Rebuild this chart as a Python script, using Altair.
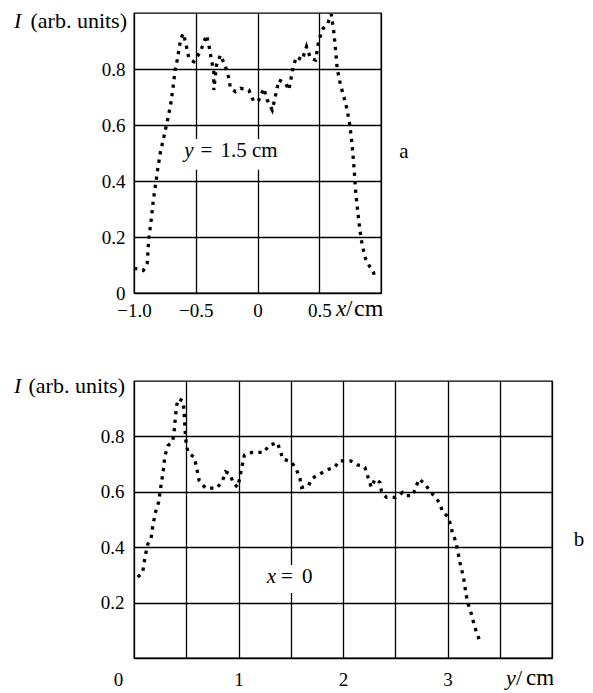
import altair as alt
import pandas as pd

FONT = "'Liberation Serif', 'Times New Roman', Times, serif"
TICK_FS = 19
NOTE_FS = 21

# ---- panel a: y = 1.5 cm, intensity vs x (cm) ----
a_x = [-1.0, -0.96, -0.925, -0.893, -0.88, -0.861, -0.845, -0.826, -0.807, -0.785,
       -0.758, -0.731, -0.704, -0.683, -0.667, -0.65, -0.623, -0.602, -0.583, -0.556,
       -0.516, -0.462, -0.413, -0.394, -0.375, -0.354, -0.354, -0.332, -0.30, -0.259,
       -0.232, -0.219, -0.178, -0.138, -0.07, -0.03, 0.01, 0.051, 0.079, 0.119,
       0.138, 0.173, 0.227, 0.254, 0.289, 0.316, 0.362, 0.397, 0.429, 0.47,
       0.497, 0.532, 0.569, 0.597, 0.618, 0.632, 0.645, 0.672, 0.699, 0.726,
       0.745, 0.759, 0.772, 0.785, 0.796, 0.812, 0.829, 0.848, 0.874, 0.909,
       0.937, 0.955]
a_I = [0.088, 0.085, 0.08, 0.106, 0.195, 0.26, 0.326, 0.386, 0.445, 0.505,
       0.558, 0.612, 0.671, 0.737, 0.796, 0.832, 0.904, 0.927, 0.897, 0.838,
       0.826, 0.862, 0.921, 0.886, 0.838, 0.79, 0.725, 0.814, 0.85, 0.808,
       0.767, 0.731, 0.719, 0.731, 0.725, 0.683, 0.689, 0.731, 0.689, 0.654,
       0.689, 0.761, 0.749, 0.725, 0.808, 0.844, 0.832, 0.88, 0.838, 0.832,
       0.904, 0.945, 0.963, 0.996, 0.933, 0.868, 0.802, 0.743, 0.701, 0.654,
       0.606, 0.558, 0.499, 0.427, 0.356, 0.29, 0.225, 0.171, 0.124, 0.094,
       0.076, 0.052]

# ---- panel b: x = 0, intensity vs y (cm) ----
b_y = [0.036, 0.083, 0.108, 0.133, 0.163, 0.18, 0.206, 0.235, 0.253, 0.278,
       0.296, 0.325, 0.371, 0.386, 0.396, 0.407, 0.426, 0.469, 0.479, 0.487,
       0.494, 0.516, 0.577, 0.602, 0.624, 0.685, 0.793, 0.847, 0.876, 0.919,
       0.948, 0.991, 1.01, 1.028, 1.057, 1.128, 1.244, 1.287, 1.369, 1.395,
       1.424, 1.503, 1.55, 1.586, 1.604, 1.669, 1.705, 1.777, 1.849, 1.921,
       1.965, 2.073, 2.138, 2.188, 2.21, 2.235, 2.271, 2.307, 2.354, 2.368,
       2.415, 2.505, 2.57, 2.607, 2.667, 2.696, 2.728, 2.786, 2.829, 2.883,
       2.92, 2.956, 3.01, 3.046, 3.081, 3.1, 3.125, 3.153, 3.172, 3.19,
       3.227, 3.256, 3.281, 3.306]
b_I = [0.292, 0.31, 0.37, 0.412, 0.43, 0.478, 0.526, 0.562, 0.61, 0.67,
       0.73, 0.766, 0.784, 0.826, 0.868, 0.91, 0.936, 0.928, 0.892, 0.838,
       0.79, 0.742, 0.724, 0.682, 0.64, 0.613, 0.613, 0.64, 0.672, 0.664,
       0.634, 0.616, 0.646, 0.682, 0.733, 0.742, 0.742, 0.766, 0.778, 0.754,
       0.718, 0.709, 0.684, 0.652, 0.616, 0.622, 0.649, 0.664, 0.68, 0.688,
       0.712, 0.712, 0.697, 0.694, 0.688, 0.658, 0.616, 0.646, 0.634, 0.601,
       0.58, 0.58, 0.598, 0.586, 0.586, 0.616, 0.646, 0.628, 0.604, 0.58,
       0.562, 0.526, 0.508, 0.454, 0.418, 0.382, 0.334, 0.292, 0.244, 0.203,
       0.161, 0.118, 0.088, 0.065]

# ---- ticks ----
a_x_ticks = [-1.0, -0.5, 0.0, 0.5, 1.0]
b_y_ticks = [0, 0.5, 1, 1.5, 2, 2.5, 3, 3.5, 4]
I_ticks = [0.0, 0.2, 0.4, 0.6, 0.8]

# ---- in-plot annotation anchors (data units) ----
a_note = {"x": [-0.518], "I": [0.507]}
a_box = {"x": [-0.58], "x2": [0.31], "I": [0.44], "I2": [0.55]}
b_note = {"x": [1.359], "I": [0.292]}
b_box = {"x": [1.18], "x2": [1.75], "I": [0.235], "I2": [0.336]}

LINE = dict(color="black", strokeWidth=3.3, strokeDash=[3.3, 5.2], strokeCap="butt")
ys = alt.Scale(domain=[0, 1], nice=False, zero=False)


def fixed_text(text, x, y, italic=False, align="left", baseline="alphabetic", size=NOTE_FS):
    return alt.Chart(pd.DataFrame({"t": [text]})).mark_text(
        font=FONT, fontSize=size, fontStyle="italic" if italic else "normal",
        align=align, baseline=baseline, color="black"
    ).encode(x=alt.value(x), y=alt.value(y), text="t:N")


def note_text(df, xs, text, dx, italic=False, align="left"):
    return alt.Chart(pd.DataFrame(df)).mark_text(
        text=text, font=FONT, fontSize=NOTE_FS, fontStyle="italic" if italic else "normal",
        align=align, baseline="middle", dx=dx, color="black"
    ).encode(x=alt.X("x:Q", scale=xs, title=None), y=alt.Y("I:Q", scale=ys, title=None))


def box_layer(df, xs):
    return alt.Chart(pd.DataFrame(df)).mark_rect(color="white", opacity=1).encode(
        x=alt.X("x:Q", scale=xs, title=None), x2="x2:Q",
        y=alt.Y("I:Q", scale=ys, title=None), y2="I2:Q")


# ---------------- panel a ----------------
xs_a = alt.Scale(domain=[-1, 1], nice=False, zero=False)
a_df = pd.DataFrame({"x": a_x, "I": a_I, "k": list(range(len(a_x)))})
a_line = alt.Chart(a_df).mark_line(**LINE).encode(
    x=alt.X("x:Q", scale=xs_a, title=None, axis=alt.Axis(
        values=a_x_ticks, labelFlush=False, labelPadding=23, labelBaseline="alphabetic",
        labelExpr="datum.value == 1 ? '' : (datum.value == 0 ? '0' : format(datum.value, '.1f'))")),
    y=alt.Y("I:Q", scale=ys, title=None, axis=alt.Axis(
        values=I_ticks, labelFlush=False, labelPadding=9,
        labelExpr="datum.value == 0 ? '0' : format(datum.value, '.1f')")),
    order="k:Q",
)
W_A, H_A = 247, 280
top = alt.layer(
    box_layer(a_box, xs_a),
    a_line,
    note_text(a_note, xs_a, "y", 0, italic=True, align="right"),
    note_text(a_note, xs_a, "=", 7),
    note_text(a_note, xs_a, "1.5\u00a0cm", 27),
    fixed_text("I", -120, 8, italic=True, baseline="middle", size=22),
    fixed_text("(arb. units)", -7, 8, align="right", baseline="middle", size=22),
    fixed_text("a", 270, 139, align="center", baseline="middle"),
    fixed_text("x", 202, 303, italic=True, size=23),
    fixed_text("/", 212, 303, size=23),
    fixed_text("cm", 220, 303, size=24),
).properties(width=W_A, height=H_A)

# ---------------- panel b ----------------
xs_b = alt.Scale(domain=[0, 4], nice=False, zero=False)
b_df = pd.DataFrame({"x": b_y, "I": b_I, "k": list(range(len(b_y)))})
b_line = alt.Chart(b_df).mark_line(**LINE).encode(
    x=alt.X("x:Q", scale=xs_b, title=None, axis=alt.Axis(
        values=b_y_ticks, labelFlush=False, labelPadding=27, labelBaseline="alphabetic",
        labelOffset={"condition": {"test": "datum.value == 0", "value": -16}, "value": 0},
        labelExpr="(datum.value % 1 == 0 && datum.value < 4) ? format(datum.value, 'd') : ''")),
    y=alt.Y("I:Q", scale=ys, title=None, axis=alt.Axis(
        values=I_ticks, labelFlush=False, labelPadding=10,
        labelExpr="datum.value == 0 ? '' : format(datum.value, '.1f')")),
    order="k:Q",
)
W_B, H_B = 418, 277
bottom = alt.layer(
    box_layer(b_box, xs_b),
    b_line,
    note_text(b_note, xs_b, "x", 0, italic=True, align="right"),
    note_text(b_note, xs_b, "=", 5),
    note_text(b_note, xs_b, "0", 26),
    fixed_text("I", -120, 5, italic=True, baseline="middle", size=22),
    fixed_text("(arb. units)", -9, 5, align="right", baseline="middle", size=22),
    fixed_text("b", 445, 159, align="center", baseline="middle"),
    fixed_text("y", 372, 304, italic=True, size=22),
    fixed_text("/", 382, 304, size=22),
    fixed_text("cm", 392, 304, size=23),
).properties(width=W_B, height=H_B)

chart = alt.vconcat(top, bottom, spacing=88, bounds="flush").properties(
    padding={"left": 5, "top": -2, "right": 0, "bottom": 0}
).configure_view(
    stroke="black", strokeWidth=1.3
).configure_axis(
    grid=True, gridColor="black", gridWidth=1.3, gridOpacity=1,
    domain=False, ticks=False, tickSize=0,
    labelFont=FONT, labelFontSize=TICK_FS, labelColor="black",
)

chart.save("out.html", embed_options={"renderer": "svg", "actions": False})
